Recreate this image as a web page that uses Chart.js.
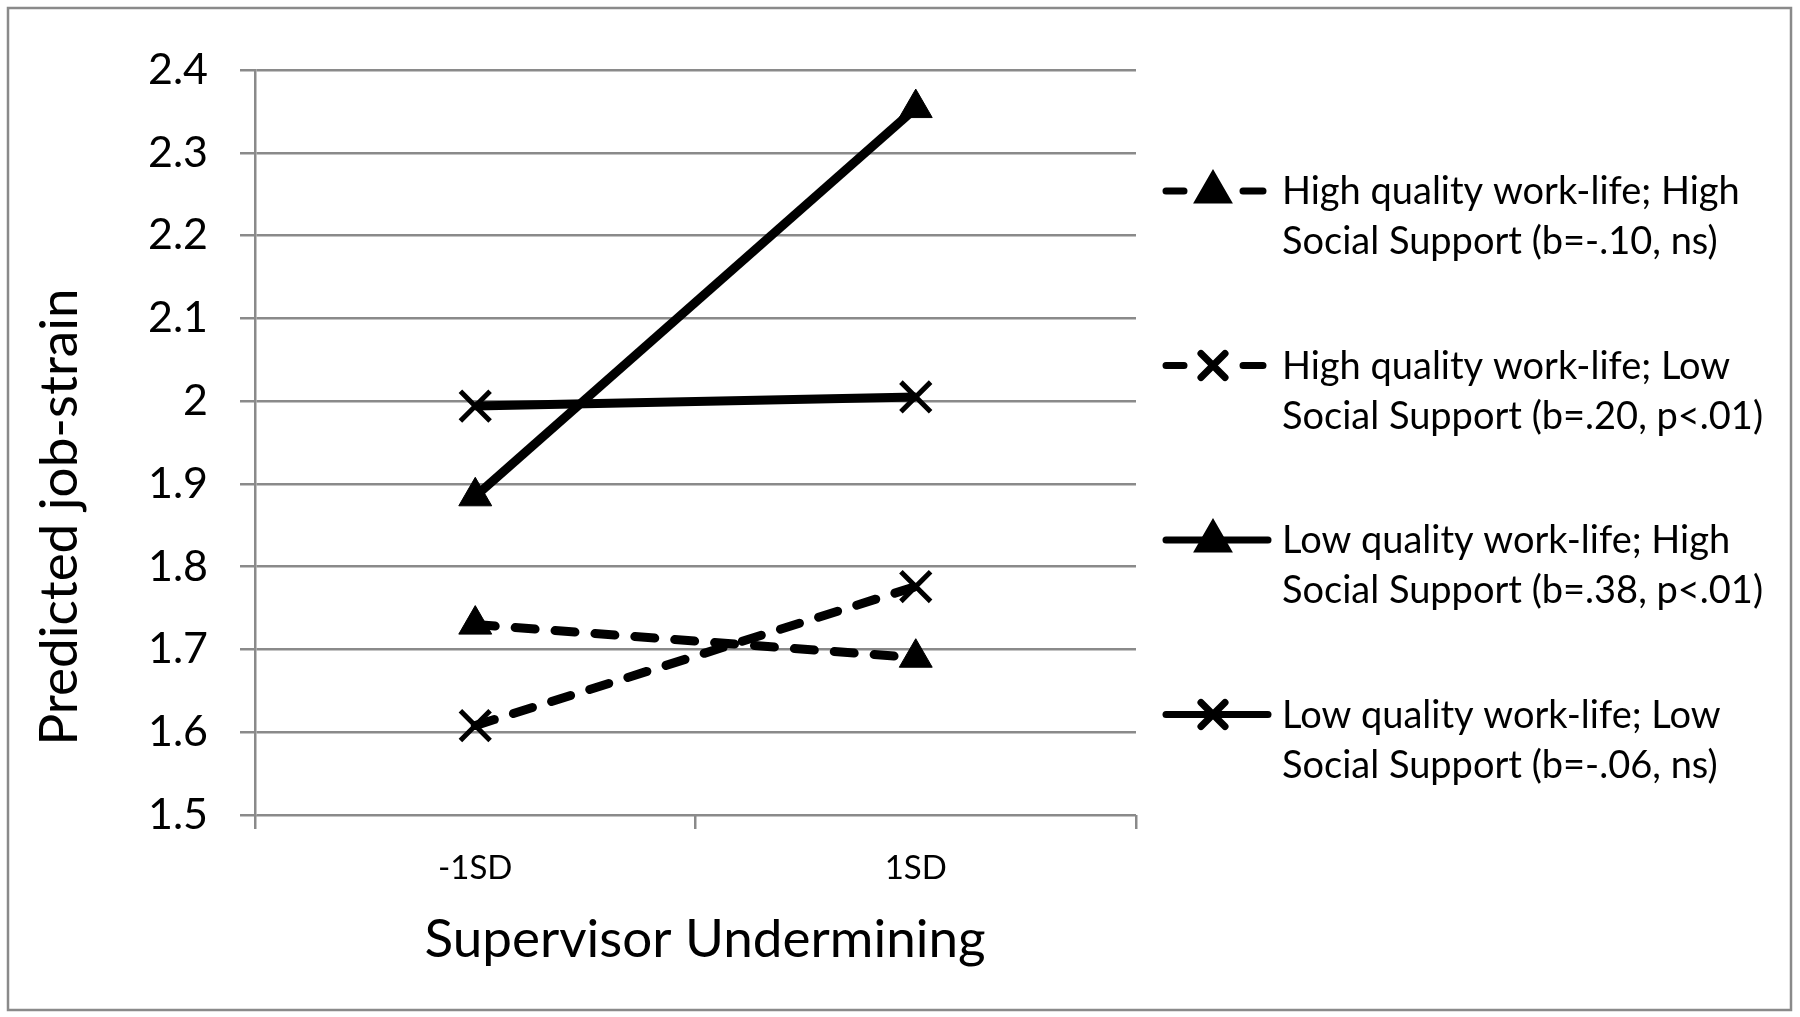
<!DOCTYPE html>
<html><head><meta charset="utf-8">
<script src="https://cdn.jsdelivr.net/npm/chart.js@4.4.1/dist/chart.umd.min.js"></script>
<style>html,body{margin:0;padding:0;background:#fff}canvas{display:block}</style>
</head><body>
<canvas id="c" width="1800" height="1017"></canvas>
<script>
const categories = ['-1SD', '1SD'];
const seriesLabels = [
  ['High quality work-life; High', 'Social Support (b=-.10, ns)'],
  ['High quality work-life; Low', 'Social Support (b=.20, p<.01)'],
  ['Low quality work-life; High', 'Social Support (b=.38, p<.01)'],
  ['Low quality work-life; Low', 'Social Support (b=-.06, ns)']
];
const hqHighSupport = [1.73, 1.69];
const hqLowSupport = [1.608, 1.776];
const lqHighSupport = [1.885, 2.354];
const lqLowSupport = [1.994, 2.005];
const yMin = 1.5, yMax = 2.4, yStep = 0.1;
const yTitle = 'Predicted job-strain';
const xTitle = 'Supervisor Undermining';

const FONT = 'Lato, "Open Sans", sans-serif';
const GRID = '#8a8a8a';

function ds(label, data, dashed, style) {
  const tri = style === 'triangle';
  return {
    label: label, data: data,
    borderColor: '#000', backgroundColor: '#000',
    borderWidth: 9, borderDash: dashed ? [20, 20] : [],
    borderCapStyle: dashed ? 'round' : 'butt',
    tension: 0, fill: false,
    pointStyle: style,
    pointRadius: tri ? 19 : 21,
    pointHoverRadius: tri ? 19 : 21,
    pointBorderWidth: tri ? 1 : 5,
    pointBorderColor: '#000', pointBackgroundColor: '#000',
    _dashed: dashed
  };
}

const decor = {
  id: 'decor',
  beforeDraw(chart) {
    const ctx = chart.ctx;
    ctx.save();
    ctx.fillStyle = '#fff';
    ctx.fillRect(0, 0, chart.width, chart.height);
    ctx.strokeStyle = '#8a8a8a';
    ctx.lineWidth = 2.5;
    ctx.strokeRect(8, 8, 1783, 1002);
    ctx.restore();
  },
  afterDraw(chart) {
    const ctx = chart.ctx;
    ctx.save();
    ctx.fillStyle = '#000';
    // axis titles
    ctx.font = '53px ' + FONT;
    ctx.textAlign = 'center';
    ctx.textBaseline = 'alphabetic';
    ctx.fillText(xTitle, 705, 957);
    ctx.save();
    ctx.translate(77, 517);
    ctx.rotate(-Math.PI / 2);
    ctx.fillText(yTitle, 0, 0);
    ctx.restore();
    // legend
    chart.data.datasets.forEach((d, i) => {
      const y = 191 + i * 174.5;
      ctx.strokeStyle = '#000';
      ctx.lineWidth = 7;
      ctx.setLineDash([]);
      ctx.lineCap = 'round';
      ctx.beginPath();
      if (d._dashed) {
        ctx.moveTo(1166, y); ctx.lineTo(1184, y);
        ctx.moveTo(1243, y); ctx.lineTo(1263, y);
      } else {
        ctx.moveTo(1166, y); ctx.lineTo(1268, y);
      }
      ctx.stroke();
      const tri = d.pointStyle === 'triangle';
      ctx.fillStyle = '#000';
      Chart.helpers.drawPoint(ctx, {
        pointStyle: d.pointStyle,
        radius: tri ? 16 : 17,
        borderWidth: tri ? 1 : 6,
        rotation: 0
      }, 1213, y + (tri ? 1 : 0));
      ctx.fillStyle = '#000';
      ctx.font = '38px ' + FONT;
      ctx.textAlign = 'left';
      ctx.textBaseline = 'alphabetic';
      const lines = Array.isArray(d.label) ? d.label : [d.label];
      lines.forEach((t, k) => ctx.fillText(t, 1282, y + 13 + k * 50));
    });
    ctx.restore();
  }
};

new Chart(document.getElementById('c'), {
  type: 'line',
  data: {
    labels: categories,
    datasets: [
      ds(seriesLabels[0], hqHighSupport, true, 'triangle'),
      ds(seriesLabels[1], hqLowSupport, true, 'crossRot'),
      ds(seriesLabels[2], lqHighSupport, false, 'triangle'),
      ds(seriesLabels[3], lqLowSupport, false, 'crossRot')
    ]
  },
  options: {
    responsive: false,
    animation: false,
    devicePixelRatio: 1,
    layout: { padding: { left: 0, top: 70, right: 664, bottom: 0 } },
    plugins: { legend: { display: false }, tooltip: { enabled: false } },
    scales: {
      x: {
        type: 'category',
        offset: true,
        grid: { display: true, drawOnChartArea: false, drawTicks: true, tickLength: 14, color: GRID, lineWidth: 2.5, offset: true },
        border: { display: false },
        ticks: { color: '#000', font: { family: FONT, size: 33 }, padding: 20, maxRotation: 0 },
        afterFit(s) { s.height = 202; }
      },
      y: {
        min: yMin, max: yMax,
        grid: { color: GRID, lineWidth: 2.5, tickLength: 15 },
        border: { display: true, color: GRID, width: 2.5 },
        ticks: {
          stepSize: yStep, color: '#000', padding: 32,
          font: { family: FONT, size: 43 },
          callback: v => String(+Number(v).toFixed(1))
        },
        afterFit(s) { s.width = 255; }
      }
    }
  },
  plugins: [decor]
});
</script>
</body></html>
